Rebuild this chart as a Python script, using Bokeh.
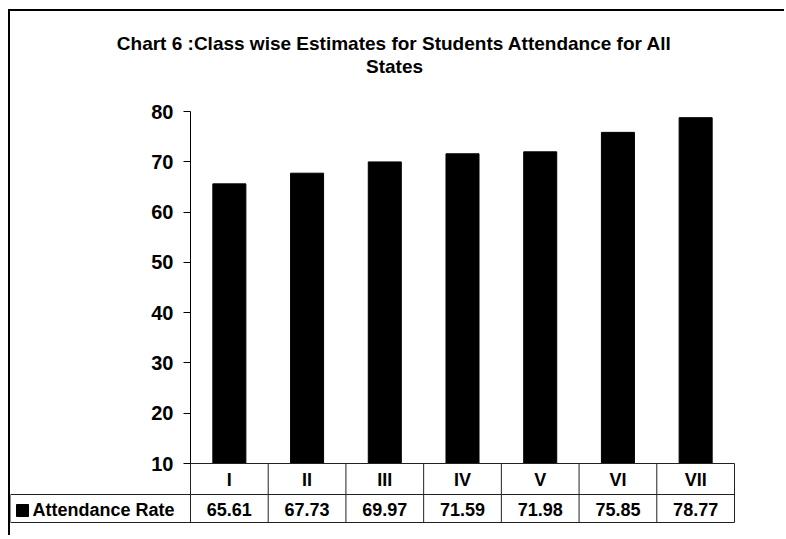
import numpy as np
from bokeh.plotting import figure
from bokeh.models import Range1d, FixedTicker
from bokeh.core.properties import value
from bokeh.embed import file_html
from bokeh.resources import INLINE

# ---- data ----
classes = ["I", "II", "III", "IV", "V", "VI", "VII"]
attendance = [65.61, 67.73, 69.97, 71.59, 71.98, 75.85, 78.77]
y_ticks = [10, 20, 30, 40, 50, 60, 70, 80]
series_name = "Attendance Rate"
title_lines = ["Chart 6 :Class wise Estimates for Students Attendance for All", "States"]

# ---- layout (canvas pixels) ----
W, H = 776, 526
AX_X = 180      # y axis position
PLOT_R = 724    # right end of category area
Y_TOP = 100     # pixel of y=80
Y_BOT = 452     # pixel of y=10
ROW1_B = 483
ROW2_B = 511
YMIN, YMAX = y_ticks[0], y_ticks[-1]
n = len(classes)
ppu_x = (PLOT_R - AX_X) / n
ppu_y = (Y_BOT - Y_TOP) / (YMAX - YMIN)


def xd(px):
    return (px - AX_X) / ppu_x


def yd(py):
    return YMIN + (Y_BOT - py) / ppu_y


FONT = value("Liberation Sans")

p = figure(width=W, height=H, x_range=Range1d(xd(0), xd(W)), y_range=Range1d(yd(H), yd(0)),
           min_border=0, toolbar_location=None, output_backend="svg",
           x_axis_type=None, outline_line_color=None)
p.grid.visible = False
p.styles = {"border-top": "2px solid black", "border-left": "2px solid black",
            "margin-top": "9px", "margin-left": "8px"}

centers = np.arange(n) + 0.5
p.vbar(x=centers, top=attendance, bottom=YMIN, width=0.425, fill_color="black", line_color="black")

ax = p.yaxis[0]
ax.fixed_location = 0
ax.bounds = (YMIN, YMAX)
ax.ticker = FixedTicker(ticks=y_ticks)
ax.minor_tick_line_color = None
ax.major_tick_in = 0
ax.major_tick_out = 7
ax.major_label_standoff = 10
ax.major_label_text_font = "Liberation Sans"
ax.major_label_text_font_style = "bold"
ax.major_label_text_font_size = "20px"
ax.major_label_text_color = "black"
ax.axis_line_color = "black"
ax.major_tick_line_color = "black"

# ---- data table ----
bounds = np.arange(n + 1)
lc = "#222222"
p.segment(x0=bounds, y0=[YMIN] * (n + 1), x1=bounds, y1=[yd(ROW2_B)] * (n + 1), line_color=lc, line_width=1)
p.segment(x0=[0, xd(0), xd(0)], y0=[YMIN, yd(ROW1_B), yd(ROW2_B)],
          x1=[n, n, n], y1=[YMIN, yd(ROW1_B), yd(ROW2_B)], line_color=lc, line_width=1)
p.segment(x0=[xd(0)], y0=[yd(ROW1_B)], x1=[xd(0)], y1=[yd(ROW2_B)], line_color=lc, line_width=1)

p.text(x=centers, y=[yd((Y_BOT + ROW1_B) / 2 + 1)] * n, text=classes, text_font=FONT,
       text_font_style="bold", text_font_size="18px", text_align="center", text_baseline="middle",
       text_color="black")
p.text(x=centers, y=[yd((ROW1_B + ROW2_B) / 2 + 1)] * n, text=[f"{v:.2f}" for v in attendance],
       text_font=FONT, text_font_style="bold", text_font_size="18px", text_align="center",
       text_baseline="middle", text_color="black")
p.scatter(x=[xd(12)], y=[yd(499)], marker="square", size=12, fill_color="black", line_color="black")
p.text(x=[xd(22)], y=[yd((ROW1_B + ROW2_B) / 2 + 1)], text=[series_name], text_font=FONT,
       text_font_style="bold", text_font_size="18px", text_align="left", text_baseline="middle",
       text_color="black")

# ---- title ----
p.text(x=[xd(384)] * 2, y=[yd(32), yd(55)], text=title_lines, text_font=FONT,
       text_font_style="bold", text_font_size="19px", text_align="center", text_baseline="middle",
       text_color="black")

open("out.html", "w").write(file_html(p, INLINE))
